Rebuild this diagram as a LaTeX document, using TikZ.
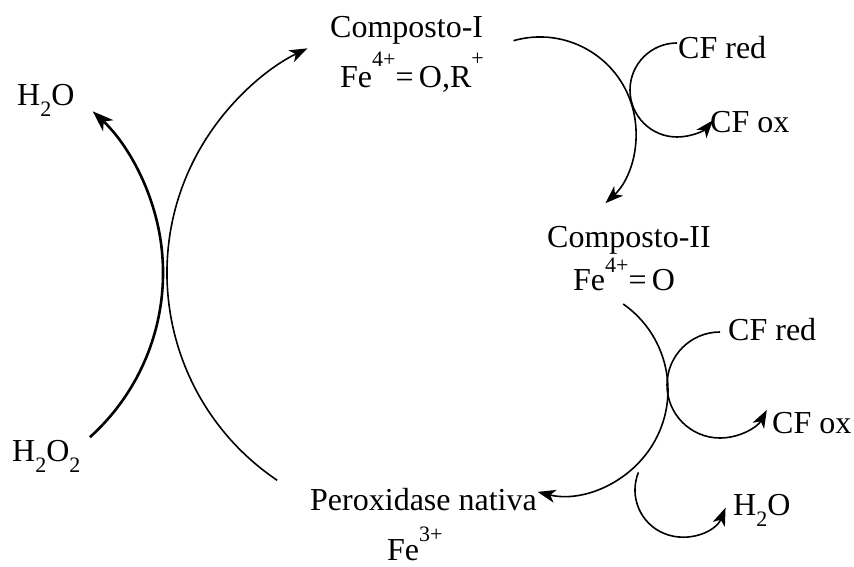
\documentclass[tikz,border=0pt]{standalone}
\usepackage{fontspec}
\setmainfont{Liberation Serif}
\usetikzlibrary{arrows.meta}
\newcommand\upsc[2]{\raisebox{#1pt}{\fontsize{22}{22}\selectfont #2}}
\newcommand\dnsc[1]{\raisebox{-11pt}{\fontsize{22}{22}\selectfont #1}}
\tikzset{
  lbl/.style={anchor=base west, inner sep=0pt, font=\fontsize{32}{38}\selectfont},
  thinarr/.style={line width=1.6pt, -{Stealth[length=18pt,width=13pt,inset=5pt]}},
  thickarr/.style={line width=2.6pt, -{Stealth[length=21pt,width=15pt,inset=6pt]}},
}
\begin{document}
\begin{tikzpicture}[x=1pt,y=1pt]
\useasboundingbox (0,0) rectangle (854,566);
% labels
\node[lbl] (c1) at (330,528) {Composto-I};
\node[lbl] (c1fe) at (340,478) {Fe\upsc{21}{4+}=\,O,R\upsc{22}{+}};
\node[lbl] (cfr1) at (678,507) {CF red};
\node[lbl] (cfo1) at (710,433) {CF ox};
\node[lbl] (c2) at (547,319) {Composto-II};
\node[lbl] (c2fe) at (573,276) {Fe\upsc{18}{4+}=\,O};
\node[lbl] (cfr2) at (728,226) {CF red};
\node[lbl] (cfo2) at (772,133) {CF ox};
\node[lbl] (px) at (310,56) {Peroxidase nativa};
\node[lbl] (pxfe) at (387,6) {Fe\upsc{19}{3+}};
\node[lbl] (h2oa) at (17,460) {H\dnsc{2}O};
\node[lbl] (h2o2) at (12,105) {H\dnsc{2}O\dnsc{2}};
\node[lbl] (h2ob) at (733,51) {H\dnsc{2}O};
% arc start points
\coordinate (s1) at (277.2,85.7);
\coordinate (s2) at (89.9,128.8);
\coordinate (s3) at (513.5,525.3);
\coordinate (s4) at (677,523);
\coordinate (s5) at (623.2,262);
\coordinate (s6) at (720,234);
\coordinate (s7) at (638.4,93.6);
% connectors
\draw[thinarr] (s1) arc[start angle=236, end angle=116, radius=250pt];
\draw[thickarr] (s2) arc[start angle=-48, end angle=47, radius=221pt];
\draw[thinarr] (s3) arc[start angle=106, end angle=-47, radius=96pt];
\draw[thinarr] (s4) arc[start angle=90, end angle=320, radius=47pt];
\draw[thinarr] (s5) arc[start angle=55, end angle=-104, radius=105pt];
\draw[thinarr] (s6) arc[start angle=90, end angle=332, radius=53pt];
\draw[thinarr] (s7) arc[start angle=158, end angle=338, radius=47pt];
\end{tikzpicture}
\end{document}
